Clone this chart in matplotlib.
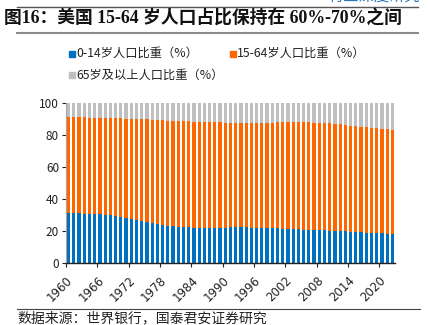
import numpy as np
import matplotlib
matplotlib.use('Agg')
import matplotlib.pyplot as plt
from matplotlib.lines import Line2D

plt.rcParams['font.family'] = ['Noto Sans CJK SC', 'DejaVu Sans']

years = list(range(1960, 2023))

# share of population by age group (%), 1960-2022
age_0_14 = [30.8, 30.9, 30.8, 30.6, 30.4, 30.3, 30.3, 30.0, 29.5, 29.0,
            28.4, 27.8, 27.3, 26.7, 26.0, 25.4, 24.8, 24.1, 23.6, 23.0,
            22.6, 22.3, 22.1, 21.9, 21.8, 21.7, 21.6, 21.6, 21.6, 21.7,
            21.8, 21.9, 21.9, 21.9, 21.9, 21.8, 21.7, 21.6, 21.5, 21.4,
            21.3, 21.2, 21.0, 20.9, 20.8, 20.6, 20.5, 20.4, 20.3, 20.2,
            20.0, 19.8, 19.6, 19.4, 19.2, 19.0, 18.9, 18.7, 18.5, 18.3,
            18.2, 18.0, 17.8]
age_65_up = [9.1, 9.2, 9.3, 9.3, 9.4, 9.5, 9.6, 9.6, 9.7, 9.8,
             9.9, 10.0, 10.1, 10.3, 10.4, 10.6, 10.8, 11.0, 11.1, 11.3,
             11.4, 11.6, 11.7, 11.8, 11.9, 12.0, 12.1, 12.2, 12.3, 12.4,
             12.5, 12.6, 12.6, 12.7, 12.7, 12.7, 12.6, 12.6, 12.5, 12.5,
             12.4, 12.4, 12.3, 12.3, 12.3, 12.3, 12.4, 12.5, 12.7, 12.9,
             13.1, 13.3, 13.7, 14.1, 14.5, 14.8, 15.2, 15.5, 15.9, 16.2,
             16.6, 16.8, 17.0]
age_15_64 = [round(100 - a - b, 1) for a, b in zip(age_0_14, age_65_up)]

labels = ['0-14岁人口比重（%）', '15-64岁人口比重（%）', '65岁及以上人口比重（%）']
colors = ['#0070C0', '#FF6600', '#BFBFBF']

title = '图16：美国 15-64 岁人口占比保持在 60%-70%之间'
source = '数据来源：世界银行，国泰君安证券研究'

fig = plt.figure(figsize=(4.28, 3.25), dpi=100)
ax = fig.add_axes([66 / 428, 1 - 262.5 / 325, 329 / 428, 160 / 325])

x = np.arange(len(years))
w = 0.62
ax.bar(x, age_0_14, width=w, color=colors[0], linewidth=0)
ax.bar(x, age_15_64, width=w, bottom=age_0_14, color=colors[1], linewidth=0)
ax.bar(x, age_65_up, width=w, bottom=np.array(age_0_14) + np.array(age_15_64),
       color=colors[2], linewidth=0)

ax.set_xlim(-0.5, len(years) - 0.5)
ax.set_ylim(0, 100)
ax.set_yticks(range(0, 101, 20))
ax.tick_params(axis='y', labelsize=8.5, length=3, width=0.8, pad=2, colors='#222222')

tick_idx = list(range(0, len(years), 6))
ax.set_xticks([i - 0.5 for i in tick_idx])
ax.set_xticklabels([str(years[i]) for i in tick_idx], rotation=45, ha='right',
                   rotation_mode='anchor', fontsize=8.5, family='DejaVu Sans')
ax.tick_params(axis='x', length=3, width=0.8, pad=5, colors='#222222')

for s in ['top', 'right']:
    ax.spines[s].set_visible(False)
ax.spines['left'].set_color('#A6A6A6')
ax.spines['left'].set_linewidth(0.8)
ax.spines['bottom'].set_color('#222222')
ax.spines['bottom'].set_linewidth(1.0)

# legend drawn by hand: two rows of squares and labels
leg_pos = [(69, 53), (230, 53), (69, 75)]
for (px, py), lab, c in zip(leg_pos, labels, colors):
    fig.patches.append(plt.Rectangle((px / 428, 1 - (py + 3.5) / 325), 6 / 428, 6 / 325,
                                     transform=fig.transFigure, color=c))
    fig.text((px + 7) / 428, 1 - py / 325, lab, fontsize=8.8, va='center', ha='left',
             color='#222222')

# header rule, title and its underline
fig.text(420 / 428, 1 - 5 / 325, '行业深度研究', fontsize=11, color='#2E75B6',
         ha='right', va='bottom')
fig.add_artist(Line2D([17 / 428, 418 / 428], [1 - 7 / 325, 1 - 7 / 325],
                      color='#555555', linewidth=1.0))
fig.text(4 / 428, 1 - 18 / 325, title, fontsize=12.8, fontweight='bold',
         family=['Liberation Serif', 'Noto Sans CJK SC'], va='center', ha='left',
         color='#111111')
fig.add_artist(Line2D([17 / 428, 418 / 428], [1 - 32.5 / 325, 1 - 32.5 / 325],
                      color='#8C8C8C', linewidth=1.5))

# footer rule and source note
fig.add_artist(Line2D([17 / 428, 420 / 428], [1 - 309 / 325, 1 - 309 / 325],
                      color='#444444', linewidth=0.8))
fig.text(17 / 428, 1 - 318.5 / 325, source, fontsize=10, va='center', ha='left',
         color='#222222')

fig.savefig('out.png', dpi=100)
